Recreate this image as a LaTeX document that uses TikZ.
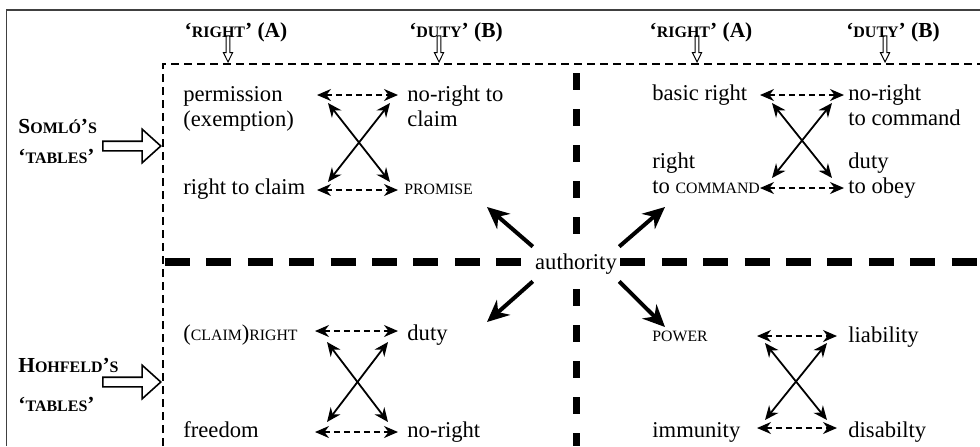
\documentclass[tikz,border=0pt]{standalone}
\usepackage{fontspec}
\setmainfont{Liberation Serif}
\usetikzlibrary{arrows.meta,shapes.arrows}

% faked small capitals
\newcommand{\fsc}[1]{{\fontsize{7.9}{10}\selectfont #1}}
\newcommand{\hsc}[1]{{\fontsize{8}{10}\selectfont #1}}

\begin{document}
\begin{tikzpicture}[
    x=0.5pt, y=-0.5pt,
    every node/.style={font=\fontsize{11.3}{12.5}\selectfont, inner sep=0pt},
    term/.style={anchor=base west, align=left},
    head/.style={anchor=base, font=\fontsize{10.7}{12}\selectfont\bfseries},
    side/.style={anchor=base west, align=left,
                 font=\fontsize{10.7}{12.5}\selectfont\bfseries},
    framebox/.style={black!75, line width=0.8pt},
    thindash/.style={line width=1pt, dash pattern=on 4pt off 2.5pt},
    hbar/.style={line width=3.75pt, dash pattern=on 12.5pt off 8.2pt},
    vbar/.style={line width=3.5pt, dash pattern=on 8.5pt off 9.5pt},
    pairar/.style={{Stealth[length=7pt,width=6pt]}-{Stealth[length=7pt,width=6pt]},
                   line width=0.8pt, dash pattern=on 3pt off 2pt},
    crossar/.style={{Stealth[length=7pt,width=6pt]}-{Stealth[length=7pt,width=6pt]},
                    line width=0.9pt},
    authar/.style={-{Stealth[length=11pt,width=10pt]}, line width=2pt},
    smallarrow/.style={draw, single arrow, rotate=-90, line width=0.5pt,
                       inner xsep=0pt, inner ysep=0.65pt, minimum height=13pt,
                       single arrow head extend=1.4pt, single arrow tip angle=53},
    bigarrow/.style={draw, single arrow, line width=0.8pt,
                     inner xsep=0pt, inner ysep=2pt, minimum height=29pt,
                     single arrow head extend=6pt, single arrow tip angle=84},
  ]
    \useasboundingbox (0,0) rectangle (980,446);

    % --- frame and dividing lines ---
    \draw[framebox] (6.5,446) -- (6.5,10) -- (980,10);
    \draw[thindash] (163,446) -- (163,64) -- (980,64);
    \draw[hbar] (165,262) -- (980,262);
    \draw[vbar] (576,73) -- (576,446);

    % --- column heads ---
    \node[head] (head-rl) at (236,37) {‘\hsc{RIGHT}’ (A)};
    \node[head] (head-dl) at (456,37) {‘\hsc{DUTY}’ (B)};
    \node[head] (head-rr) at (701,37) {‘\hsc{RIGHT}’ (A)};
    \node[head] (head-dr) at (893,37) {‘\hsc{DUTY}’ (B)};
    \foreach \n/\x in {rl/228, dl/439, rr/697, dr/885} {
      \node[smallarrow, anchor=tip] (ar-\n) at (\x,63) {};
    }

    % --- row labels (base = last line) ---
    \node[side] (somlo) at (18,163) {S\hsc{OMLÓ}’\hsc{S}\\[2.5pt]‘\hsc{TABLES}’};
    \node[side] (hohfeld) at (18,411) {H\hsc{OHFELD}’\hsc{S}\\[7pt]‘\hsc{TABLES}’};
    \node[bigarrow, anchor=tip] (ar-somlo) at (162,146) {};
    \node[bigarrow, anchor=tip] (ar-hohfeld) at (162,382) {};

    % --- terms ---
    \node[term] (perm) at (183,126) {permission\\(exemption)};
    \node[term] (nrclaim) at (407,126) {no-right to\\claim};
    \node[term] (rclaim) at (183,194) {right to claim};
    \node[term] (promise) at (404,194) {\fsc{PROMISE}};

    \node[term] (basic) at (652,100) {basic right};
    \node[term] (nrcmd) at (848,125) {no-right\\to command};
    \node[term] (rcmd) at (652,193) {right\\to \fsc{COMMAND}};
    \node[term] (obey) at (848,193) {duty\\to obey};

    \node[term] (claimr) at (183,340) {(\fsc{CLAIM})\fsc{RIGHT}};
    \node[term] (dutyb) at (407,340) {duty};
    \node[term] (free) at (183,437) {freedom};
    \node[term] (noright) at (407,437) {no-right};

    \node[term] (power) at (652,341) {\fsc{POWER}};
    \node[term] (liab) at (848,342) {liability};
    \node[term] (immun) at (652,437) {immunity};
    \node[term] (disab) at (848,437) {disabilty};

    % --- squares of opposition ---
    \foreach \q/\xa/\xb/\yt/\yb/\cl/\cr/\cu/\cd in {
        tl/317/398/95/190/328/390/103/182,
        tr/760/844/95/188/772/832/103/178,
        bl/315/398/331/432/327/388/342/422,
        br/757/837/336/428/765/827/343/420} {
      \coordinate (\q-a) at (\xa,\yt);
      \coordinate (\q-b) at (\xb,\yt);
      \coordinate (\q-c) at (\xa,\yb);
      \coordinate (\q-d) at (\xb,\yb);
      \coordinate (\q-ul) at (\cl,\cu);
      \coordinate (\q-ur) at (\cr,\cu);
      \coordinate (\q-dl) at (\cl,\cd);
      \coordinate (\q-dr) at (\cr,\cd);
      \draw[pairar] (\q-a) -- (\q-b);
      \draw[pairar] (\q-c) -- (\q-d);
      \draw[crossar] (\q-ul) -- (\q-dr);
      \draw[crossar] (\q-ur) -- (\q-dl);
    }

    % --- authority in the middle ---
    \node[fill=white, inner xsep=1pt, minimum height=17pt] (auth) at (576,264) {authority};
    \coordinate (end-ul) at (487,207);
    \coordinate (end-ur) at (665,207);
    \coordinate (end-dl) at (487,322);
    \coordinate (end-dr) at (665,327);
    \draw[authar] (auth.north west) -- (end-ul);
    \draw[authar] (auth.north east) -- (end-ur);
    \draw[authar] (auth.south west) -- (end-dl);
    \draw[authar] (auth.south east) -- (end-dr);
  \end{tikzpicture}
\end{document}
